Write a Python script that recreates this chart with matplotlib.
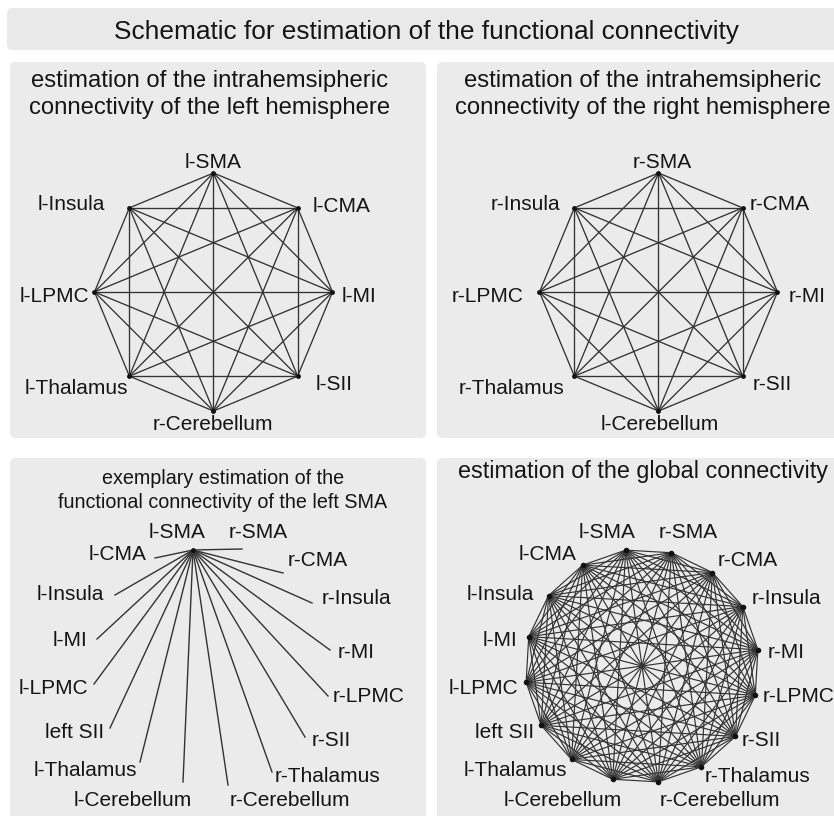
import numpy as np
import matplotlib
matplotlib.use("Agg")
import matplotlib.pyplot as plt
from matplotlib.patches import FancyBboxPatch
from itertools import combinations

plt.rcParams['font.family'] = ['Liberation Sans', 'DejaVu Sans']

# ---------------- data ----------------
main_title = "Schematic for estimation of the functional connectivity"
title_left = ["estimation of the intrahemsipheric", "connectivity of the left hemisphere"]
title_right = ["estimation of the intrahemsipheric", "connectivity of the right hemisphere"]
title_star = ["exemplary estimation of the", "functional connectivity of the left SMA"]
title_global = ["estimation of the global connectivity"]

# octagon nodes, clockwise from top
left_nodes = ["l-SMA", "l-CMA", "l-MI", "l-SII", "r-Cerebellum", "l-Thalamus", "l-LPMC", "l-Insula"]
right_nodes = ["r-SMA", "r-CMA", "r-MI", "r-SII", "l-Cerebellum", "r-Thalamus", "r-LPMC", "r-Insula"]

# 16 nodes of the global network, clockwise from l-SMA
global_nodes = ["l-SMA", "r-SMA", "r-CMA", "r-Insula", "r-MI", "r-LPMC", "r-SII", "r-Thalamus",
                "r-Cerebellum", "l-Cerebellum", "l-Thalamus", "left SII", "l-LPMC", "l-MI",
                "l-Insula", "l-CMA"]

# exemplary star: targets of l-SMA and end points of their lines (pixel coords)
star_targets = global_nodes[1:]
star_end_x = [242, 283, 312, 330, 328, 305, 272, 228, 183, 140, 110, 94, 97, 115, 155]
star_end_y = [549, 573, 603, 650, 696, 737, 772, 785, 782, 762, 728, 684, 639, 595, 558]

# ---------------- layout ----------------
W, H = 834, 816
fig = plt.figure(figsize=(W / 100, H / 100), dpi=100)
ax = fig.add_axes([0, 0, 1, 1])
ax.set_xlim(0, W)
ax.set_ylim(H, 0)
ax.axis('off')

PANEL = '#ebebeb'
LINE = '#333333'
TXT = '#151515'

def box(x0, y0, x1, y1, color=PANEL):
    p = FancyBboxPatch((x0, y0), x1 - x0, y1 - y0,
                       boxstyle="round,pad=0,rounding_size=6",
                       fc=color, ec='none', zorder=0)
    ax.add_patch(p)

box(7, 8, 845, 50, '#e9e9e9')
box(10, 62, 426, 438)
box(437, 62, 845, 438)
box(10, 458, 426, 830)
box(437, 458, 845, 830)

ax.text(426, 39, main_title, ha='center', va='baseline', fontsize=18.9, color=TXT)

def lines_text(xc, ys, lines, fs):
    for y, s in zip(ys, lines):
        ax.text(xc, y, s, ha='center', va='baseline', fontsize=fs, color=TXT)

lines_text(210, [87, 114], title_left, 17.2)
lines_text(643, [87, 114], title_right, 17.2)
lines_text(223, [484, 508], title_star, 14.2)
lines_text(643, [478], title_global, 16.8)

LFS = 15.0
CAP = 7.5

def node_graph(cx, cy, r, angles_deg, edges_alpha=1.0, lw=1.0, ms=3.5):
    a = np.radians(angles_deg)
    xs = cx + r * np.cos(a)
    ys = cy - r * np.sin(a)
    for i, j in combinations(range(len(xs)), 2):
        ax.plot([xs[i], xs[j]], [ys[i], ys[j]], color=LINE, lw=lw, alpha=edges_alpha,
                solid_capstyle='round', zorder=2)
    ax.plot(xs, ys, 'o', color='#111111', ms=ms, mec='none', zorder=3)
    return xs, ys

# ---- octagons ----
oct_angles = 90 - 45 * np.arange(len(left_nodes))
node_graph(213.5, 292, 119, oct_angles, lw=0.95)
node_graph(658.5, 292, 119, oct_angles, lw=0.95)

# label anchors (x, y_center, ha) for octagon labels, clockwise from top
oct_lab_left = [(213, 160, 'center'), (313, 205, 'left'), (342, 294, 'left'), (316, 382, 'left'),
                (213, 423, 'center'), (128, 387, 'right'), (89, 294, 'right'), (105, 203, 'right')]
oct_lab_right = [(662, 160, 'center'), (750, 202, 'left'), (789, 294, 'left'), (753, 383, 'left'),
                 (660, 423, 'center'), (564, 387, 'right'), (524, 294, 'right'), (560, 202, 'right')]
for names, labs in ((left_nodes, oct_lab_left), (right_nodes, oct_lab_right)):
    for s, (x, y, ha) in zip(names, labs):
        ax.text(x, y + CAP, s, ha=ha, va='baseline', fontsize=LFS, color=TXT)

# ---- star ----
hub = (193, 550)
for ex, ey in zip(star_end_x, star_end_y):
    ax.plot([hub[0], ex], [hub[1], ey], color=LINE, lw=1.0, zorder=2)
ax.plot([hub[0]], [hub[1]], 'o', color='#111111', ms=3.5, mec='none', zorder=3)

# ---- global 16-gon ----
g_angles = 98 - 22.5 * np.arange(len(global_nodes))
node_graph(642, 666, 117, g_angles, lw=0.85, ms=4)

# labels for 16 nodes (shared by both bottom panels, offset 430)
bot_lab = [(177, 531, 'center'), (258, 531, 'center'), (288, 559, 'left'), (322, 597, 'left'),
           (338, 650, 'left'), (333, 695, 'left'), (312, 739, 'left'), (275, 775, 'left'),
           (290, 798, 'center'), (133, 798, 'center'), (137, 769, 'right'), (104, 731, 'right'),
           (88, 687, 'right'), (87, 638, 'right'), (104, 592, 'right'), (147, 553, 'right')]
for off in (0, 430):
    for s, (x, y, ha) in zip(global_nodes, bot_lab):
        ax.text(x + off, y + CAP, s, ha=ha, va='baseline', fontsize=LFS, color=TXT)

fig.savefig('out.png', dpi=100, facecolor='white')
